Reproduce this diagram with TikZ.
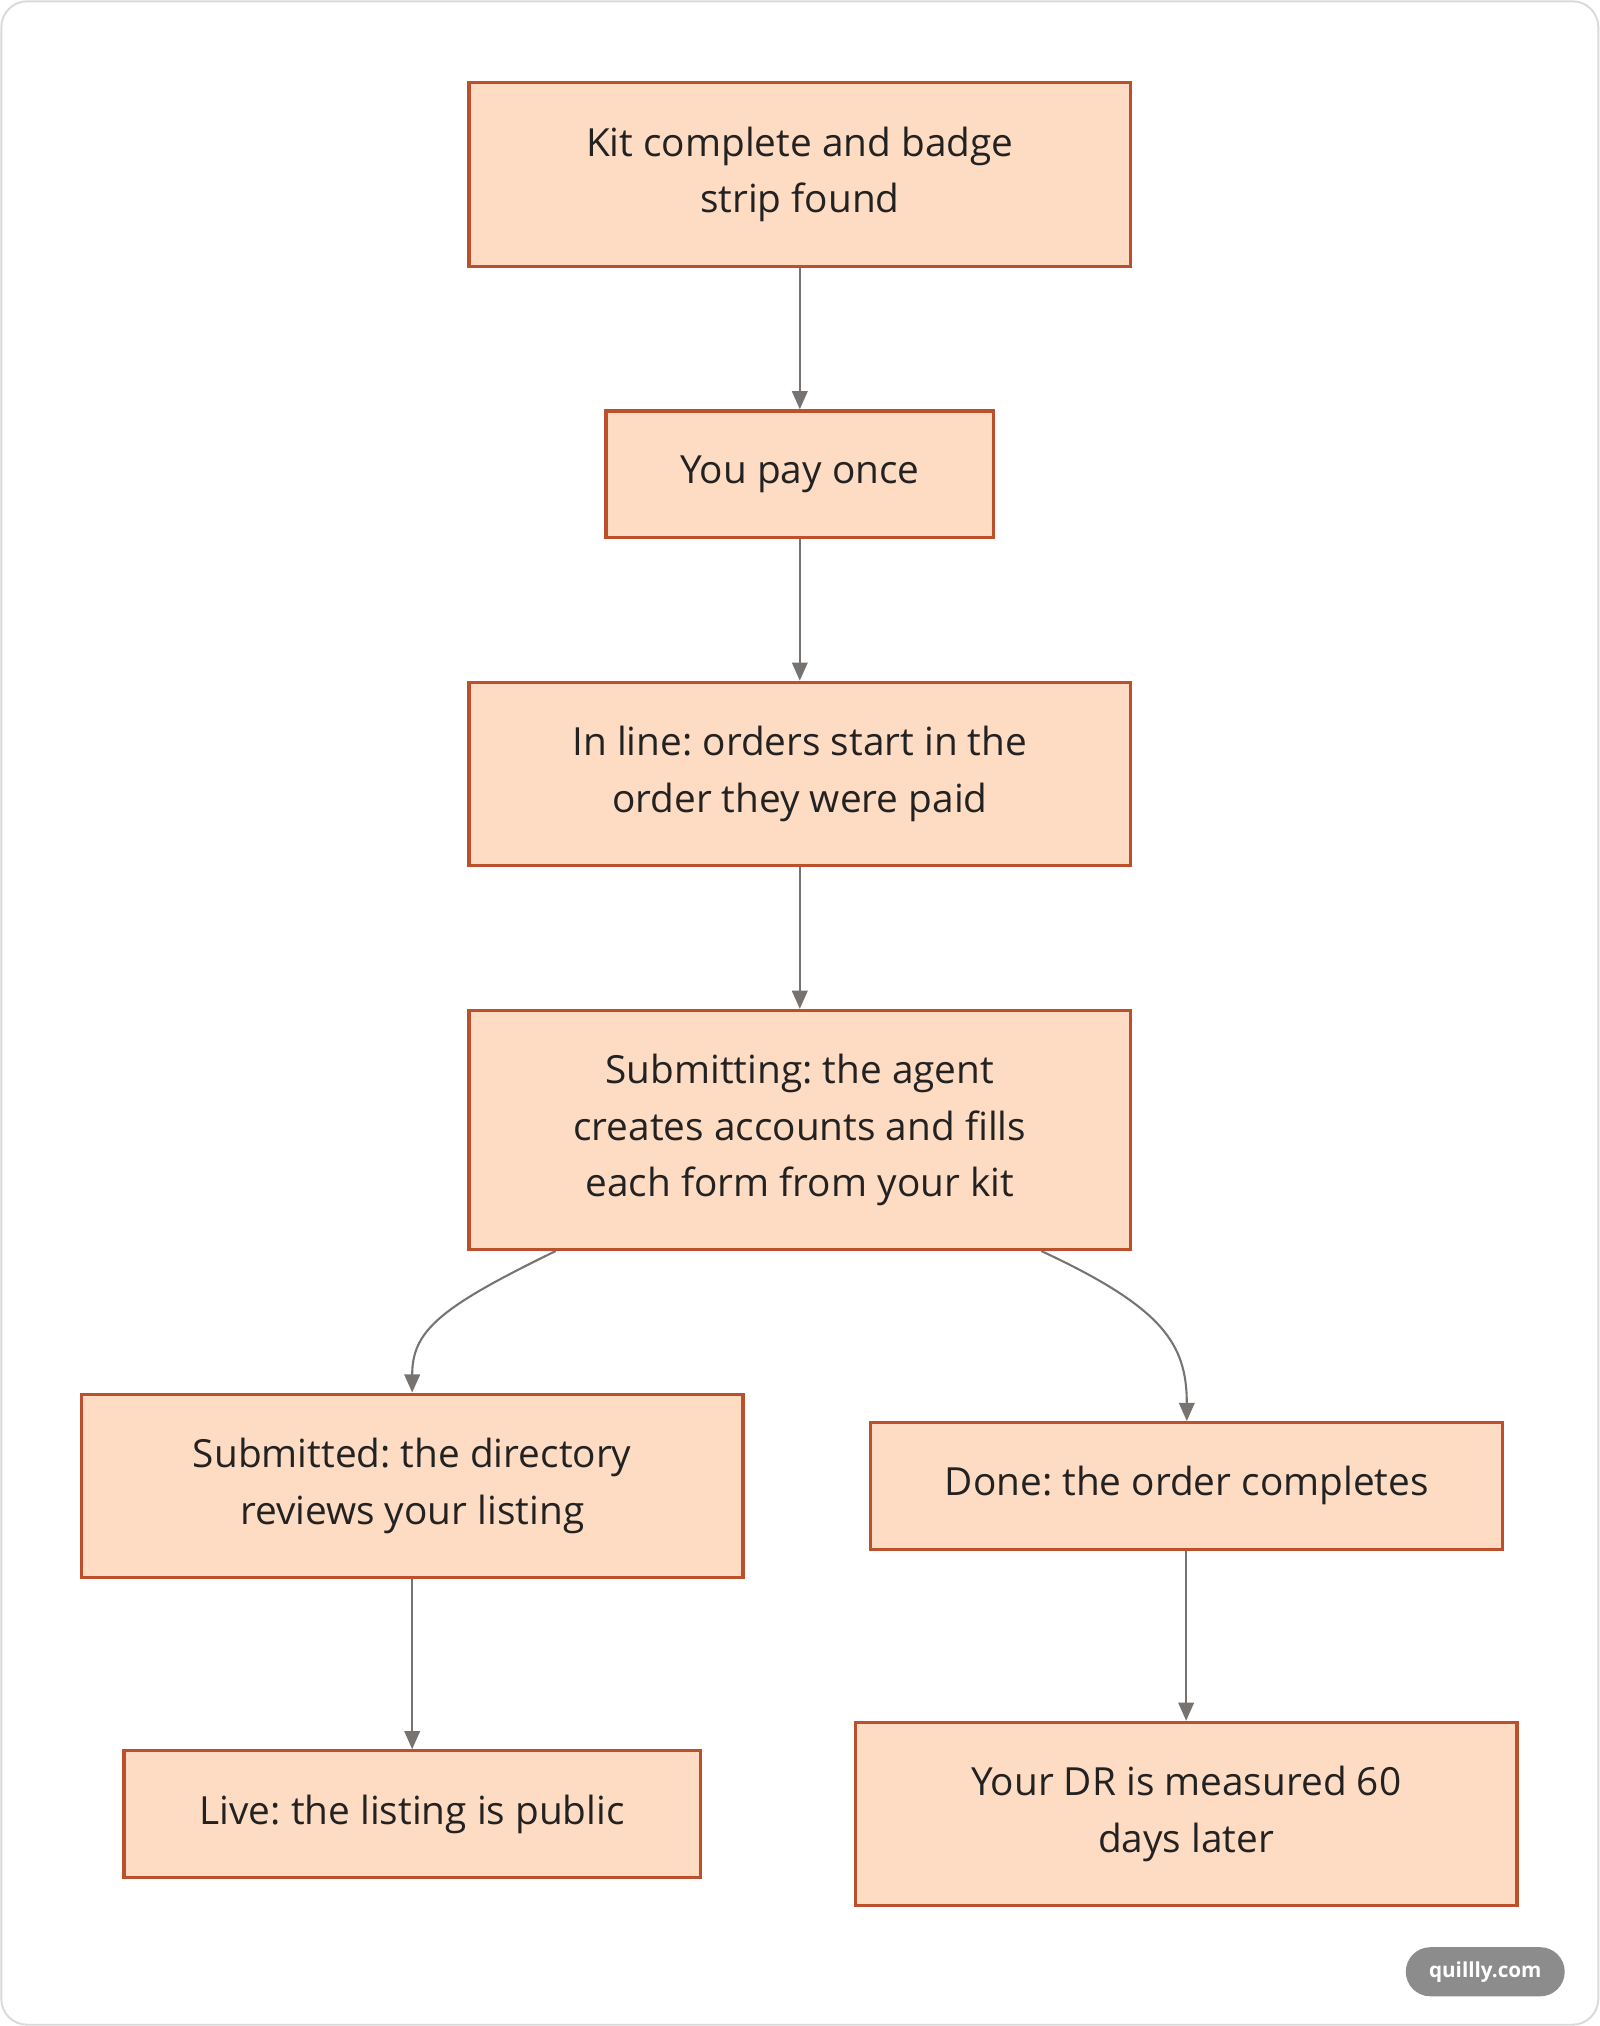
\documentclass[tikz,border=0pt]{standalone}
\usepackage{fontspec}
\setmainfont{Open Sans}
\usetikzlibrary{arrows.meta}
\definecolor{boxfill}{HTML}{FEDCC3}
\definecolor{boxdraw}{HTML}{BC4F2C}
\definecolor{arrowc}{HTML}{767370}
\definecolor{framec}{HTML}{DADADA}
\definecolor{pillc}{HTML}{8C8C8C}
\definecolor{txt}{HTML}{222222}
\frenchspacing
\begin{document}
\begin{tikzpicture}[x=1pt,y=-1pt,
  box/.style={draw=boxdraw, fill=boxfill, line width=2.5pt, align=center, inner sep=0pt,
    font=\fontsize{30}{44}\selectfont, text=txt},
  conn/.style={draw=arrowc, line width=1.6pt, -{Triangle[length=14pt,width=12pt]}}]
\useasboundingbox (0,0) rectangle (1238,1568);
\draw[framec, line width=1.5pt, fill=white, rounded corners=20pt] (1,1) rectangle (1237,1567);

\node[box, minimum width=512pt, minimum height=142pt] (n1) at (619,135) {Kit complete and badge\\strip found};
\node[box, minimum width=300pt, minimum height=98pt] (n2) at (619,367) {You pay once};
\node[box, minimum width=512pt, minimum height=142pt] (n3) at (619,599) {In line: orders start in the\\order they were paid};
\node[box, minimum width=512pt, minimum height=185pt] (n4) at (619,874.5) {Submitting: the agent\\creates accounts and fills\\each form from your kit};
\node[box, minimum width=512pt, minimum height=142pt] (n5) at (319,1150) {Submitted: the directory\\reviews your listing};
\node[box, minimum width=489pt, minimum height=98pt] (n6) at (918.5,1150) {Done: the order completes};
\node[box, minimum width=446pt, minimum height=98pt] (n7) at (319,1404) {Live: the listing is public};
\node[box, minimum width=512pt, minimum height=142pt] (n8) at (918,1404) {Your DR is measured 60\\days later};

\draw[conn] (n1) -- (n2);
\draw[conn] (n2) -- (n3);
\draw[conn] (n3) -- (n4);
\coordinate (s5) at ([xshift=-189pt]n4.south);
\coordinate (s6) at ([xshift=187pt]n4.south);
\draw[conn] (s5) .. controls (340,1012) and (319,1030) .. (n5.north);
\draw[conn] (s6) .. controls (900,1012) and (918.5,1040) .. (n6.north);
\draw[conn] (n5) -- (n7);
\draw[conn] ([xshift=-0.5pt]n6.south) -- (n8.north);

\node[fill=pillc, rounded corners=19pt, minimum width=123pt, minimum height=38pt, inner sep=0pt,
  text=white, font=\fontsize{16}{18}\selectfont\bfseries] (wm) at (1149.5,1526) {quillly.com};
\end{tikzpicture}
\end{document}
